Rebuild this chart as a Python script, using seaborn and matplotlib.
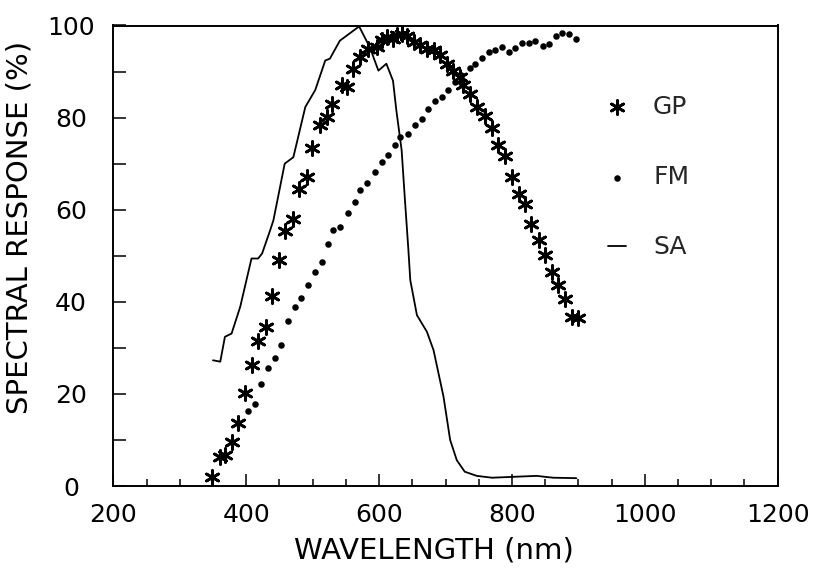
import matplotlib
matplotlib.use("Agg")
import matplotlib.pyplot as plt
import seaborn as sns
import numpy as np
from matplotlib.ticker import MultipleLocator

# ---- data ----
sa_nm = [350, 361, 368, 378, 391, 408, 418, 424, 436, 441, 458, 471, 489, 504,
         519, 526, 541, 570, 586, 599, 611, 621, 626, 634, 639, 644, 647, 657,
         672, 682, 697, 707, 717, 729, 747, 770, 837, 862, 897]
sa_pct = [27.3, 27.0, 32.4, 33.1, 38.9, 49.4, 49.4, 50.5, 55.5, 57.7, 70.0, 71.4,
          82.3, 86.0, 92.4, 92.8, 96.7, 99.8, 95.3, 90.2, 91.7, 88.0, 81.6, 72.9,
          62.0, 51.6, 44.7, 37.1, 33.5, 29.5, 19.4, 10.0, 5.6, 3.1, 2.2, 1.8,
          2.2, 1.8, 1.7]

gp_nm = [348, 361, 368, 378, 388, 398, 409, 418, 430, 439, 450, 459, 470, 479,
         491, 499, 511, 521, 529, 544, 551, 561, 571, 584, 597, 604, 612, 621,
         627, 634, 642, 652, 662, 672, 682, 692, 702, 712, 722, 727, 737, 747,
         759, 770, 779, 790, 800, 810, 820, 829, 840, 850, 860, 870, 880, 890, 900]
gp_pct = [2.0, 6.4, 6.7, 9.6, 13.7, 20.1, 26.2, 31.5, 34.6, 41.2, 49.0, 55.4,
          58.0, 64.6, 67.0, 73.3, 78.3, 80.1, 83.0, 87.0, 86.6, 90.6, 93.1, 94.9,
          95.3, 96.8, 97.5, 97.1, 98.0, 98.2, 97.8, 96.4, 95.7, 94.9, 94.6, 93.5,
          91.7, 90.2, 88.8, 87.0, 85.2, 82.3, 80.3, 77.8, 74.0, 71.6, 67.2, 63.5,
          61.2, 57.0, 53.4, 50.1, 46.5, 43.6, 40.7, 36.7, 36.4]

fm_nm = [403, 413, 423, 433, 443, 453, 463, 473, 483, 493, 504, 514, 523, 531,
         541, 554, 564, 571, 582, 594, 604, 614, 624, 632, 644, 654, 664, 674,
         684, 694, 704, 714, 724, 737, 745, 755, 765, 775, 785, 795, 805, 815,
         825, 835, 846, 856, 866, 876, 886, 896]
fm_pct = [16.3, 17.7, 22.1, 25.7, 27.9, 30.6, 35.9, 38.9, 40.9, 43.6, 46.5, 48.7,
          52.6, 55.5, 56.2, 59.2, 61.7, 64.2, 65.7, 68.2, 70.3, 71.8, 74.0, 75.8,
          76.5, 78.3, 79.8, 81.9, 83.7, 84.4, 85.9, 87.7, 89.2, 90.8, 91.6, 92.9,
          94.2, 94.7, 95.4, 94.3, 95.2, 96.3, 96.3, 96.6, 95.6, 95.9, 97.7, 98.3,
          98.2, 97.1]

x_ticks = [200, 400, 600, 800, 1000, 1200]
y_ticks = [0, 20, 40, 60, 80, 100]

# ---- style ----
sns.set_style("white")
plt.rcParams["font.family"] = ["DejaVu Sans"]

W, H = 818, 570
fig = plt.figure(figsize=(W / 100, H / 100), dpi=100)
ax = fig.add_axes([113.3 / W, 1 - 486 / H, (777.7 - 113.3) / W, (486 - 25.5) / H])

sns.lineplot(x=sa_nm, y=sa_pct, ax=ax, color="black", linewidth=1.3,
             sort=False, estimator=None, label="SA")
sns.scatterplot(x=gp_nm, y=gp_pct, ax=ax, marker=(6, 2, 0), s=100,
                color="black", linewidth=2.0, label="GP", zorder=3)
sns.scatterplot(x=fm_nm, y=fm_pct, ax=ax, marker="o", s=22,
                color="black", edgecolor="black", linewidth=0, label="FM", zorder=3)

ax.set_xlim(200, 1200)
ax.set_ylim(0, 100)
ax.set_xticks(x_ticks)
ax.set_yticks(y_ticks)
ax.xaxis.set_minor_locator(MultipleLocator(50))
ax.yaxis.set_minor_locator(MultipleLocator(10))

for s in ax.spines.values():
    s.set_visible(True)
    s.set_color("black")
    s.set_linewidth(1.4)

ax.tick_params(axis="x", which="major", direction="in", length=9, width=1.1,
               labelsize=18, pad=12, colors="black", bottom=True, top=False)
ax.tick_params(axis="x", which="minor", direction="in", length=5, width=1.1,
               bottom=True, top=False, colors="black")
ax.tick_params(axis="y", which="both", direction="in", length=9, width=1.1,
               labelsize=18, pad=30.5, colors="black", left=True, right=False)
for lab in ax.get_yticklabels():
    lab.set_horizontalalignment("center")

ax.set_xlabel("WAVELENGTH (nm)", fontsize=21, color="black")
ax.set_ylabel("SPECTRAL RESPONSE (%)", fontsize=21, color="black")
ax.xaxis.set_label_coords(0.483, -0.11)
ax.yaxis.set_label_coords(-0.12, 0.561)

handles, labels = ax.get_legend_handles_labels()
order = [labels.index(l) for l in ["GP", "FM", "SA"]]
ax.legend([handles[i] for i in order], [labels[i] for i in order],
          loc="upper left", bbox_to_anchor=(608 / W, 1 - 95 / H),
          bbox_transform=fig.transFigure, frameon=False, fontsize=18,
          handlelength=0.7, handletextpad=1.1, labelspacing=1.85,
          borderpad=0, borderaxespad=0)

fig.savefig("out.png", dpi=100)
